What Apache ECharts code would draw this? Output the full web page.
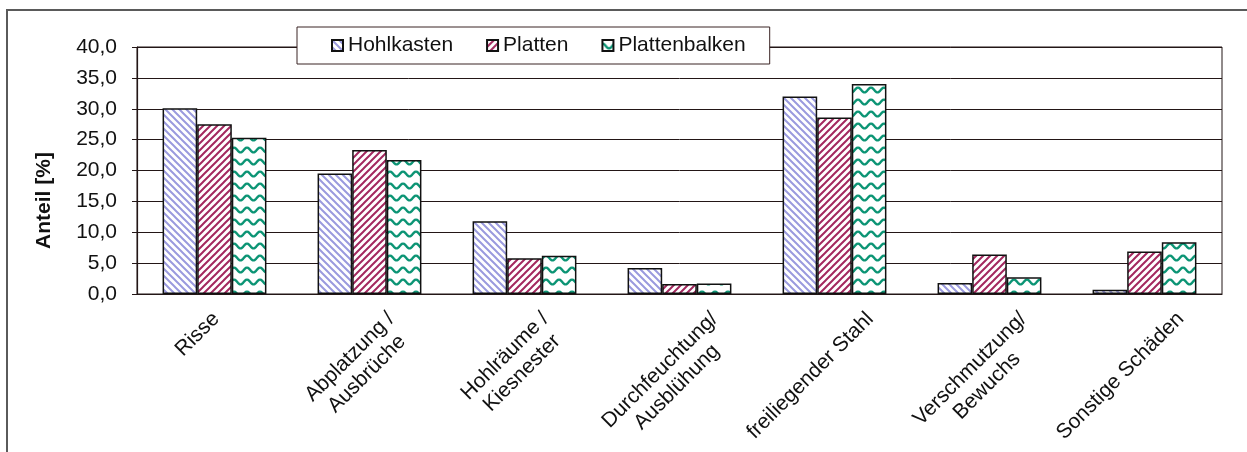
<!DOCTYPE html>
<html>
<head>
<meta charset="utf-8">
<script src="https://cdn.jsdelivr.net/npm/echarts@6/dist/echarts.min.js"></script>
<style>
  html, body { margin: 0; padding: 0; background: #fff; }
  #mainChart { width: 1247px; height: 452px; }
</style>
</head>
<body>
<div id="mainChart"></div>
<script>
  var categories = ['Risse', 'Abplatzung /\nAusbrüche', 'Hohlräume /\nKiesnester', 'Durchfeuchtung/\nAusblühung',
    'freiliegender Stahl', 'Verschmutzung/\nBewuchs', 'Sonstige Schäden'];
  var hohlkasten = [30.1, 19.5, 11.8, 4.2, 32.0, 1.8, 0.7];
  var platten = [27.5, 23.3, 5.8, 1.6, 28.6, 6.4, 6.9];
  var plattenbalken = [25.3, 21.7, 6.2, 1.7, 34.0, 2.7, 8.4];
  var seriesNames = ['Hohlkasten', 'Platten', 'Plattenbalken'];
  var yMin = 0, yMax = 40, yStep = 5;

  var font = '"Liberation Sans", Arial, sans-serif';
  var lineColor = '#231616';

  // hatch fills, like the old excel patterns
  function stripes (color, up) {
    var s = 7;
    var c = document.createElement('canvas');
    c.width = s; c.height = s;
    var g = c.getContext('2d');
    g.fillStyle = '#fff';
    g.fillRect(0, 0, s, s);
    g.strokeStyle = color;
    g.lineWidth = 2;
    g.beginPath();
    if (up) {
      g.moveTo(-1, s + 1); g.lineTo(s + 1, -1);
      g.moveTo(-1, 1); g.lineTo(1, -1);
      g.moveTo(s - 1, s + 1); g.lineTo(s + 1, s - 1);
    } else {
      g.moveTo(-1, -1); g.lineTo(s + 1, s + 1);
      g.moveTo(-1, s - 1); g.lineTo(1, s + 1);
      g.moveTo(s - 1, -1); g.lineTo(s + 1, 1);
    }
    g.stroke();
    return c;
  }

  function waves (color) {
    var w = 13, h = 12;
    var c = document.createElement('canvas');
    c.width = w; c.height = h;
    var g = c.getContext('2d');
    g.fillStyle = '#fff';
    g.fillRect(0, 0, w, h);
    g.strokeStyle = color;
    g.lineWidth = 2.4;
    g.beginPath();
    for (var x = 0; x <= w; x += 0.5) {
      var y = 6 - 2.4 * Math.cos(2 * Math.PI * x / w);
      if (x === 0) g.moveTo(x, y); else g.lineTo(x, y);
    }
    g.stroke();
    return c;
  }

  var fills = [
    {image: stripes('#9a9ade', false), repeat: 'repeat'},
    {image: stripes('#a3285f', true), repeat: 'repeat'},
    {image: waves('#0b9474'), repeat: 'repeat'}
  ];

  // rotated labels are placed like excel does it: the turned box hangs just under the axis.
  // shift along the text via side padding, across it via an empty first line.
  var measure = document.createElement('canvas').getContext('2d');
  measure.font = '21px ' + font;
  var labelRich = {
    t: {fontSize: 21, lineHeight: 24, color: '#111', fontFamily: font}
  };
  var labelItems = categories.map(function (name, i) {
    var lines = name.split('\n');
    var w = Math.max.apply(null, lines.map(function (s) { return measure.measureText(s).width; }));
    var h = (lines.length - 1) * 24 + 16;
    var dx = lines.length > 1 ? -11 : -17 - 0.06 * (w - 52);
    var dy = 16 - 8 + 0.354 * (w + h);
    var du = 0.707 * (dx - dy);
    var dn = 0.707 * (dx + dy);
    labelRich['g' + i] = {fontSize: 1, lineHeight: Math.max(1, 2 * dn)};
    return {
      value: name,
      textStyle: {
        align: 'center',
        verticalAlign: 'middle',
        padding: [0, Math.max(0, -2 * du), 0, Math.max(0, 2 * du)]
      }
    };
  });

  var myChart = echarts.init(document.getElementById('mainChart'));
  myChart.setOption({
    animation: false,
    backgroundColor: '#fff',
    graphic: [{
      type: 'rect',
      shape: {x: 7, y: 10, width: 1400, height: 600},
      style: {fill: 'none', stroke: '#5a5a5a', lineWidth: 2},
      silent: true,
      z: -10
    }],
    grid: {
      left: 137, right: 25, top: 47, bottom: 158,
      containLabel: false,
      outerBoundsMode: 'none',
      show: true, borderColor: lineColor, borderWidth: 1
    },
    legend: {
      left: 297, top: 27,
      padding: [7, 24, 7, 34],
      itemGap: 33,
      itemWidth: 11, itemHeight: 11,
      backgroundColor: '#fff',
      borderColor: '#3b2424', borderWidth: 1,
      icon: 'rect',
      textStyle: {fontSize: 21, lineHeight: 23, color: '#111', fontFamily: font},
      data: seriesNames
    },
    xAxis: {
      type: 'category',
      data: labelItems,
      axisLine: {lineStyle: {color: lineColor, width: 1.2}},
      axisTick: {length: 5, lineStyle: {color: lineColor}},
      axisLabel: {
        interval: 0, rotate: 45, margin: 8,
        align: 'center', verticalAlign: 'middle',
        fontSize: 21, lineHeight: 24, color: '#111', fontFamily: font,
        rich: labelRich,
        formatter: function (value, index) {
          return '{g' + index + '|\u200b}\n{t|' + value.split('\n').join('}\n{t|') + '}';
        }
      }
    },
    yAxis: {
      type: 'value',
      min: yMin, max: yMax, interval: yStep,
      name: 'Anteil [%]',
      nameLocation: 'middle',
      nameGap: 82,
      nameTextStyle: {fontSize: 21, fontWeight: 'bold', color: '#111', fontFamily: font, padding: [0, 60, 0, 0]},
      axisLine: {show: true, lineStyle: {color: lineColor, width: 1.2}},
      axisTick: {show: true, length: 5, lineStyle: {color: lineColor}},
      axisLabel: {
        margin: 20, fontSize: 21, color: '#111', fontFamily: font,
        showMinLabel: true, showMaxLabel: true, hideOverlap: false,
        formatter: function (v) { return v.toFixed(1).replace('.', ','); }
      },
      splitLine: {lineStyle: {color: lineColor, width: 1}}
    },
    series: [hohlkasten, platten, plattenbalken].map(function (d, i) {
      return {
        name: seriesNames[i],
        type: 'bar',
        data: d,
        barGap: '0%',
        barCategoryGap: '33%',
        itemStyle: {color: fills[i], borderColor: '#111', borderWidth: 1.5}
      };
    })
  });
</script>
</body>
</html>
